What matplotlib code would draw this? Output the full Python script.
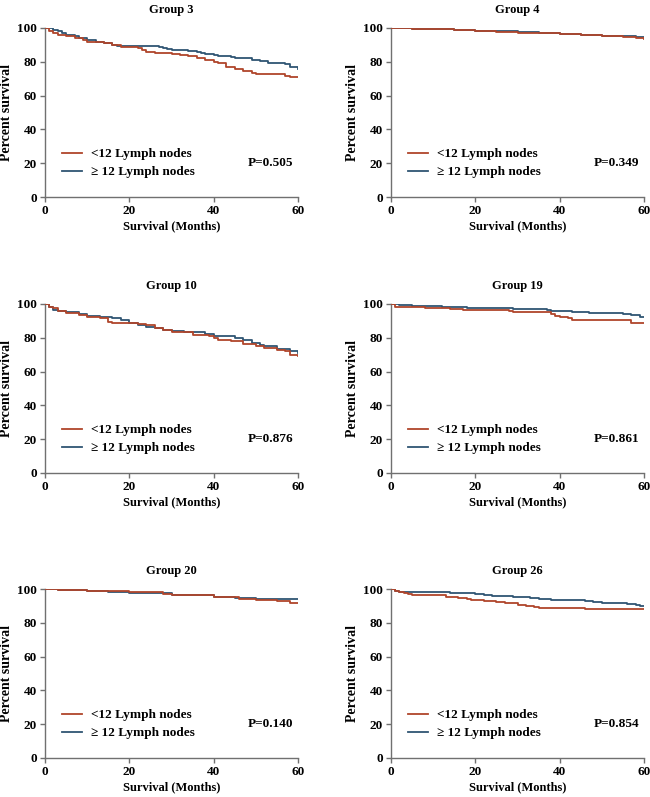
import matplotlib
matplotlib.use("Agg")
import matplotlib.pyplot as plt

plt.rcParams['font.family'] = ['Liberation Serif', 'DejaVu Serif']
plt.rcParams['font.weight'] = 'bold'

titles = ["Group 3", "Group 4", "Group 10", "Group 19", "Group 20", "Group 26"]
pvalues = ["P=0.505", "P=0.349", "P=0.876", "P=0.861", "P=0.140", "P=0.854"]
label_lt = "<12 Lymph nodes"
label_ge = "\u2265 12 Lymph nodes"
xticks = [0, 20, 40, 60]
yticks = [0, 20, 40, 60, 80, 100]

# Group 3
g3_lt_t = [0, 1, 2, 3, 5, 7, 9, 10, 12, 14, 16, 18, 21, 22, 23, 24, 26, 27, 30, 32, 34, 36, 38, 40, 41, 43, 45, 47, 49, 50, 55, 57, 58, 60]
g3_lt_s = [100, 98, 97, 96, 95, 94, 93, 92, 91.5, 91, 90, 89, 88.8, 88, 87, 86, 85.5, 85, 84.5, 84, 83.5, 82.5, 81, 80, 79, 77, 76, 74.5, 73.5, 73, 72.5, 71.5, 71, 71]
g3_ge_t = [0, 2, 3, 4, 5, 7, 8, 10, 12, 14, 16, 17, 20, 27, 28, 29, 30, 34, 36, 37, 38, 40, 41, 44, 45, 48, 49, 51, 53, 57, 58, 60]
g3_ge_s = [100, 99, 98, 97, 96, 95, 94, 93, 92, 91, 90, 89.5, 89.5, 88.5, 88, 87.5, 87, 86.5, 86, 85, 84.5, 84, 83.5, 83, 82.5, 82, 81, 80.5, 79, 78.5, 77, 76]
# Group 4
g4_lt_t = [0, 5, 10, 15, 20, 25, 30, 35, 40, 45, 50, 55, 58, 60]
g4_lt_s = [100, 99.6, 99.2, 98.8, 98.3, 97.8, 97.3, 96.9, 96.4, 95.8, 95.2, 94.5, 94, 93.5]
g4_ge_t = [0, 5, 10, 15, 20, 25, 30, 35, 40, 45, 50, 55, 58, 60]
g4_ge_s = [100, 99.6, 99.3, 98.9, 98.5, 98.0, 97.6, 97.1, 96.6, 96.0, 95.5, 95.0, 94.7, 94.5]
# Group 10
g10_lt_t = [0, 1, 2, 3, 5, 8, 10, 13, 15, 16, 20, 22, 24, 26, 28, 30, 33, 35, 39, 40, 41, 44, 47, 50, 52, 55, 57, 58, 60]
g10_lt_s = [100, 98.5, 97.5, 96, 94.5, 93.5, 92.5, 91.5, 89.5, 89, 88.8, 88, 87.5, 86, 84.5, 83.5, 83.5, 81.5, 81, 80, 78.5, 78, 76.5, 75, 74, 73, 72, 70, 69.5]
g10_ge_t = [0, 1, 2, 3, 5, 8, 10, 13, 16, 18, 20, 22, 24, 26, 28, 30, 33, 36, 38, 40, 43, 45, 47, 49, 51, 52, 55, 58, 60]
g10_ge_s = [100, 98, 96.5, 96, 95, 94, 93, 92.5, 92, 90.5, 89, 87.5, 86.5, 86, 84.5, 84, 83.5, 83.5, 82, 81, 81, 80, 78.5, 77, 76, 75, 73.5, 72, 71]
# Group 19
g19_lt_t = [0, 1, 7, 8, 13, 14, 17, 27, 28, 29, 37, 38, 39, 40, 42, 43, 55, 57, 60]
g19_lt_s = [100, 98.5, 98.5, 97.5, 97.5, 97, 96.5, 96.5, 96, 95.5, 95.5, 94, 93, 92.5, 91.5, 90.5, 90.5, 89, 89]
g19_ge_t = [0, 2, 5, 12, 16, 18, 28, 29, 37, 38, 43, 47, 55, 57, 59, 60]
g19_ge_s = [100, 99.5, 99, 98.5, 98, 97.5, 97.5, 97, 96.5, 96, 95.5, 94.5, 94, 93.5, 92.5, 92.5]
# Group 20
g20_lt_t = [0, 3, 10, 20, 28, 30, 40, 45, 46, 50, 55, 58, 60]
g20_lt_s = [100, 99.2, 99, 98.5, 97.2, 96.5, 95.5, 95, 94, 93.5, 93, 92, 91.5]
g20_ge_t = [0, 3, 10, 15, 20, 30, 40, 45, 50, 55, 60]
g20_ge_s = [100, 99.2, 98.8, 98.5, 97.8, 96.5, 95.3, 94.8, 94.3, 94, 94]
# Group 26
g26_lt_t = [0, 1, 2, 3, 4, 5, 12, 13, 14, 16, 18, 19, 22, 25, 27, 29, 30, 32, 34, 35, 45, 46, 60]
g26_lt_s = [100, 99, 98, 97.5, 97, 96.5, 96.5, 95.5, 95, 94.5, 94, 93.5, 93, 92.5, 92, 91.5, 90.5, 90, 89.5, 89, 89, 88, 88]
g26_ge_t = [0, 1, 2, 12, 14, 20, 22, 24, 29, 31, 33, 35, 38, 44, 46, 48, 50, 53, 56, 58, 59, 60]
g26_ge_s = [100, 99, 98.5, 98, 97.5, 97, 96.5, 96, 95.5, 95, 94.5, 94, 93.7, 93.5, 93, 92.5, 92, 91.5, 91, 90.5, 90, 90]

series = [
    (g3_lt_t, g3_lt_s, g3_ge_t, g3_ge_s),
    (g4_lt_t, g4_lt_s, g4_ge_t, g4_ge_s),
    (g10_lt_t, g10_lt_s, g10_ge_t, g10_ge_s),
    (g19_lt_t, g19_lt_s, g19_ge_t, g19_ge_s),
    (g20_lt_t, g20_lt_s, g20_ge_t, g20_ge_s),
    (g26_lt_t, g26_lt_s, g26_ge_t, g26_ge_s),
]

RED = "#B0452B"
BLUE = "#2F5573"
GRAY = "#707070"

fig = plt.figure(figsize=(6.5, 7.97), dpi=100)
W, H = 650, 797
lefts = [45, 391]
tops = [28, 304, 589]
aw, ah = 253, 169

for i in range(6):
    r, c = divmod(i, 2)
    ax = fig.add_axes([lefts[c] / W, 1 - (tops[r] + ah) / H, aw / W, ah / H])
    lt_t, lt_s, ge_t, ge_s = series[i]
    ax.step(lt_t, lt_s, where='post', color=RED, lw=1.3, label=label_lt, zorder=3)
    ax.step(ge_t, ge_s, where='post', color=BLUE, lw=1.3, label=label_ge, zorder=2)
    ax.set_xlim(0, 60)
    ax.set_ylim(0, 100)
    ax.set_xticks(xticks)
    ax.set_yticks(yticks)
    for s in ['top', 'right']:
        ax.spines[s].set_visible(False)
    for s in ['left', 'bottom']:
        ax.spines[s].set_color(GRAY)
        ax.spines[s].set_linewidth(1.0)
    ax.tick_params(colors=GRAY, labelcolor='black', length=3.5, width=1.0, labelsize=9.5, pad=2.5)
    for lab in ax.get_xticklabels() + ax.get_yticklabels():
        lab.set_fontweight('bold')
    ax.set_title(titles[i], fontsize=9, fontweight='bold', pad=11)
    ax.set_ylabel("Percent survival", fontsize=10, fontweight='bold', labelpad=3)
    ax.set_xlabel("Survival (Months)", fontsize=9, fontweight='bold', labelpad=2)
    leg = ax.legend(loc='lower left', bbox_to_anchor=(0.02, 0.04), frameon=False,
                    prop={'family': ['Liberation Serif', 'DejaVu Serif'], 'weight': 'bold', 'size': 9.5},
                    handlelength=1.5, handletextpad=0.7, labelspacing=0.45)
    ax.text(0.98, 0.2, pvalues[i], transform=ax.transAxes, ha='right', va='center',
            fontsize=9.5, fontweight='bold')

fig.savefig("out.png", dpi=100)
